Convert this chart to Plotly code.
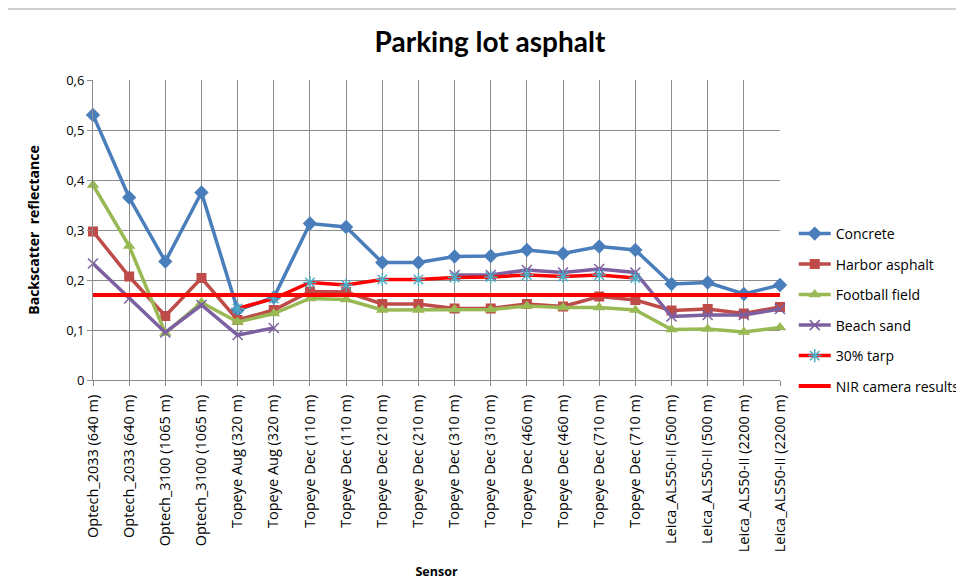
import plotly.graph_objects as go

# Sensor categories (two measurements per sensor/altitude)
sensors = [
    'Optech_2033 (640 m)', 'Optech_2033 (640 m)',
    'Optech_3100 (1065 m)', 'Optech_3100 (1065 m)',
    'Topeye Aug (320 m)', 'Topeye Aug (320 m)',
    'Topeye Dec (110 m)', 'Topeye Dec (110 m)',
    'Topeye Dec (210 m)', 'Topeye Dec (210 m)',
    'Topeye Dec (310 m)', 'Topeye Dec (310 m)',
    'Topeye Dec (460 m)', 'Topeye Dec (460 m)',
    'Topeye Dec (710 m)', 'Topeye Dec (710 m)',
    'Leica_ALS50-II (500 m)', 'Leica_ALS50-II (500 m)',
    'Leica_ALS50-II (2200 m)', 'Leica_ALS50-II (2200 m)',
]

concrete = [0.53, 0.365, 0.237, 0.375, 0.14, 0.165, 0.313, 0.306, 0.235, 0.235,
            0.247, 0.248, 0.26, 0.253, 0.267, 0.26, 0.192, 0.195, 0.172, 0.19]
harbor_asphalt = [0.297, 0.207, 0.128, 0.204, 0.12, 0.14, 0.177, 0.176, 0.152, 0.152,
                  0.143, 0.143, 0.152, 0.147, 0.167, 0.16, 0.139, 0.142, 0.133, 0.146]
football_field = [0.39, 0.268, 0.094, 0.155, 0.116, 0.133, 0.163, 0.161, 0.14, 0.14,
                  0.141, 0.141, 0.148, 0.145, 0.145, 0.14, 0.101, 0.102, 0.096, 0.105]
beach_sand = [0.233, 0.163, 0.095, 0.15, 0.09, 0.104, None, None, None, None,
              0.21, 0.21, 0.22, 0.215, 0.222, 0.215, 0.127, 0.13, 0.13, 0.142]
tarp_30 = [None, None, None, None, 0.143, 0.163, 0.195, 0.19, 0.201, 0.201,
           0.205, 0.206, 0.21, 0.207, 0.21, 0.204, None, None, None, None]
nir_camera = [0.17] * len(sensors)

x = list(range(len(sensors)))

series = [
    ('Concrete', concrete, '#4A7EBB', dict(symbol='diamond', size=11, color='#4A7EBB')),
    ('Harbor asphalt', harbor_asphalt, '#BE4B48', dict(symbol='square', size=10, color='#BE4B48')),
    ('Football field', football_field, '#98B954', dict(symbol='triangle-up', size=11, color='#98B954')),
    ('Beach sand', beach_sand, '#7D60A0',
     dict(symbol='x-thin-open', size=10, color='#7D60A0', line=dict(color='#7D60A0', width=1.5))),
    ('30% tarp', tarp_30, '#FF0000',
     dict(symbol='asterisk-open', size=11, color='#4BACC6', line=dict(color='#4BACC6', width=1.5))),
]

fig = go.Figure()
for i, (name, vals, color, marker) in enumerate(series):
    fig.add_trace(go.Scatter(
        x=x, y=vals, name=name, mode='lines+markers',
        line=dict(color=color, width=3.5),
        marker=marker, cliponaxis=False, legendgroup=str(i),
    ))
fig.add_trace(go.Scatter(
    x=x, y=nir_camera, name='NIR camera results', mode='lines',
    line=dict(color='#FF0000', width=4), cliponaxis=False, legendgroup='nir',
))

font = 'Open Sans, sans-serif'
grid = '#8C8C8C'

# page has an 8px body margin, so the figure is 8px smaller than the window
W, H = 956, 572
L, R, T, B = 85, 184, 72, 200
pw, ph = W - L - R, H - T - B

fig.update_layout(
    width=W, height=H,
    separators=', ',
    paper_bgcolor='white', plot_bgcolor='white',
    font=dict(family=font, size=13, color='black'),
    title=dict(text='<b>Parking lot asphalt</b>', x=(490 - 8) / W, xanchor='center',
               y=1 - (42 - 8) / H, yanchor='middle',
               font=dict(size=28, family='Lato, sans-serif')),
    margin=dict(l=L, r=R, t=T, b=B, autoexpand=False),
    showlegend=True,
    legend=dict(x=1.02, xanchor='left', y=0.54, yanchor='top',
                font=dict(size=14, family=font), tracegroupgap=9.3,
                itemwidth=32, bgcolor='rgba(0,0,0,0)'),
    xaxis=dict(
        tickvals=x, ticktext=sensors, range=[0, len(sensors) - 1],
        tickangle=-90, tickfont=dict(size=14.5), ticklabelstandoff=3,
        showgrid=True, gridcolor=grid, gridwidth=1,
        showline=True, linecolor=grid, ticks='outside', tickcolor=grid, ticklen=5,
        zeroline=False, automargin=False,
        title=dict(text='<b>Sensor</b>', font=dict(size=12.5), standoff=16),
    ),
    yaxis=dict(
        range=[0, 0.6], dtick=0.1, tickformat='.1~f',
        showgrid=True, gridcolor=grid, gridwidth=1,
        showline=True, linecolor=grid, ticks='outside', tickcolor=grid, ticklen=5,
        zeroline=False, tickfont=dict(size=13), automargin=False,
        title=dict(text='<b>Backscatter  reflectance</b>', font=dict(size=14), standoff=23),
    ),
)

# top edge of the chart frame
fig.add_shape(type='line', xref='paper', yref='paper',
              x0=-L / pw, x1=(W - L) / pw, y0=(380 - 9) / ph, y1=(380 - 9) / ph,
              line=dict(color='#A0A0A0', width=1))

fig.write_html('out.html')
